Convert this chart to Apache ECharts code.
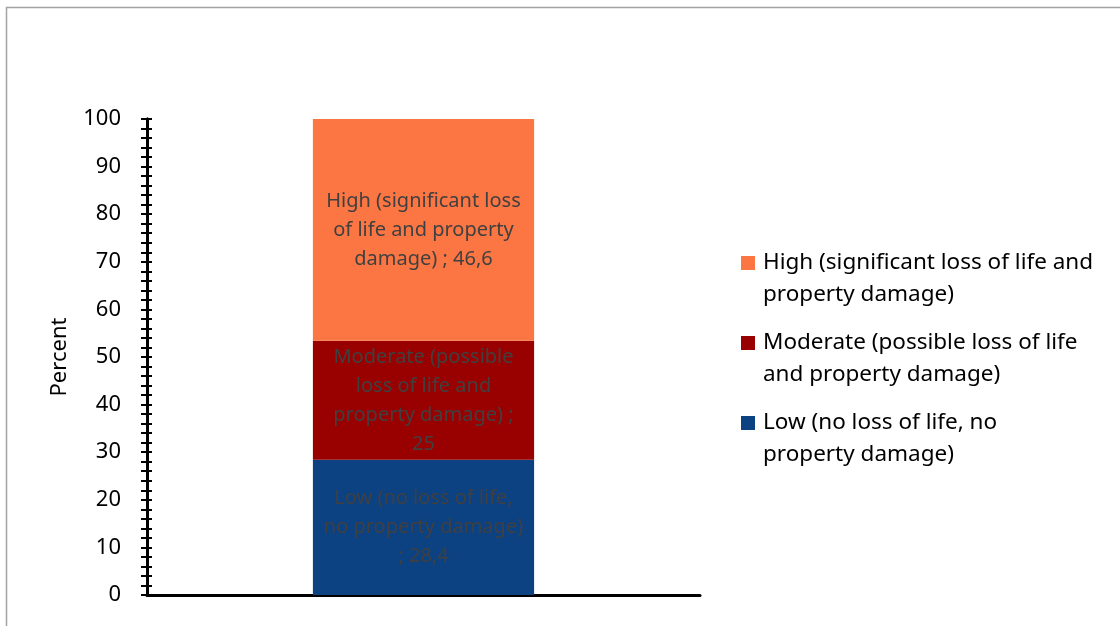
<!DOCTYPE html>
<html>
<head>
<meta charset="utf-8">
<script src="https://cdn.jsdelivr.net/npm/echarts@6/dist/echarts.min.js"></script>
<style>
  html, body { margin: 0; padding: 0; background: #ffffff; }
  #chart { width: 1120px; height: 626px; }
</style>
</head>
<body>
<div id="chart"></div>
<script>
// Damage-level categories, stacked bottom to top
const seriesNames = [
  'Low (no loss of life, no property damage)',
  'Moderate (possible loss of life and property damage)',
  'High (significant loss of life and property damage)'
];
// Share of each damage level, percent
const seriesValues = [28.4, 25, 46.6];
const seriesColors = ['#0c4182', '#990000', '#fb7642'];
// Wrapped text shown inside each segment, before its value
const segmentLabelHeads = [
  'Low (no loss of life,\nno property damage)\n; ',
  'Moderate (possible\nloss of life and\nproperty damage) ;\n',
  'High (significant loss\nof life and property\ndamage) ; '
];
// Wrapped legend text
const legendLabels = {
  'High (significant loss of life and property damage)': 'High (significant loss of life and\nproperty damage)',
  'Moderate (possible loss of life and property damage)': 'Moderate (possible loss of life\nand property damage)',
  'Low (no loss of life, no property damage)': 'Low (no loss of life, no\nproperty damage)'
};
const categories = [''];
const yTicks = { min: 0, max: 100, interval: 10 };

const FONT = '"Noto Sans", "Open Sans", sans-serif';

function fmtValue(v) {
  return String(v).replace('.', ',');
}

const axisLineStyle = { color: '#000000', width: 3 };

// Legend marker: a square at the top-left with an empty stretch around it,
// so the swatch lines up with the first line of the wrapped legend text.
const legendIcon = 'path://M0,0h14v14h-14zM0,46h17';

const series = seriesNames.map((name, i) => ({
  name: name,
  type: 'bar',
  stack: 'total',
  barWidth: '40%',
  data: [seriesValues[i]],
  itemStyle: { color: seriesColors[i] },
  label: {
    show: true,
    position: 'inside',
    color: '#404040',
    fontFamily: FONT,
    fontSize: 20,
    lineHeight: 29,
    align: 'center',
    formatter: (p) => segmentLabelHeads[i] + fmtValue(p.value)
  }
}));

const chart = echarts.init(document.getElementById('chart'), null, { renderer: 'canvas' });
chart.setOption({
  animation: false,
  backgroundColor: '#ffffff',
  textStyle: { fontFamily: FONT },
  graphic: [{
    type: 'rect',
    shape: { x: 6.5, y: 7.5, width: 1300, height: 800 },
    style: { fill: 'none', stroke: '#a3a3a3', lineWidth: 1.5 },
    silent: true
  }],
  grid: { left: 147, right: 420, top: 119, bottom: 31, containLabel: false },
  legend: {
    left: 741,
    top: 247,
    orient: 'vertical',
    padding: 0,
    itemWidth: 17,
    itemHeight: 46,
    itemGap: 16,
    icon: legendIcon,
    data: seriesNames.slice().reverse(),
    formatter: (name) => legendLabels[name],
    textStyle: {
      fontFamily: FONT,
      fontSize: 22.5,
      lineHeight: 32,
      color: '#000000'
    }
  },
  xAxis: {
    type: 'category',
    data: categories,
    axisLine: { lineStyle: axisLineStyle },
    axisTick: { show: false },
    axisLabel: { show: false },
    splitLine: { show: false }
  },
  yAxis: [{
    type: 'value',
    min: yTicks.min,
    max: yTicks.max,
    interval: yTicks.interval,
    name: 'Percent',
    nameLocation: 'middle',
    nameGap: 76,
    nameTextStyle: { fontFamily: FONT, fontSize: 22, color: '#000000' },
    axisLine: { show: true, lineStyle: axisLineStyle },
    axisTick: { show: true, length: 6, lineStyle: { color: '#000', width: 2 } },
    minorTick: { show: true, splitNumber: 5, length: 6, lineStyle: { color: '#000', width: 2 } },
    axisLabel: { fontFamily: FONT, fontSize: 22, color: '#000000', margin: 26 },
    splitLine: { show: false }
  }, {
    // Mirror of the value axis that draws the ticks on the inner side
    type: 'value',
    position: 'left',
    min: yTicks.min,
    max: yTicks.max,
    interval: yTicks.interval,
    axisLine: { show: true, lineStyle: axisLineStyle },
    axisTick: { show: true, inside: true, length: 5, lineStyle: { color: '#000', width: 2 } },
    minorTick: { show: true, splitNumber: 5, length: 5, lineStyle: { color: '#000', width: 2 } },
    axisLabel: { show: false },
    splitLine: { show: false }
  }],
  series: series
});
</script>
</body>
</html>
